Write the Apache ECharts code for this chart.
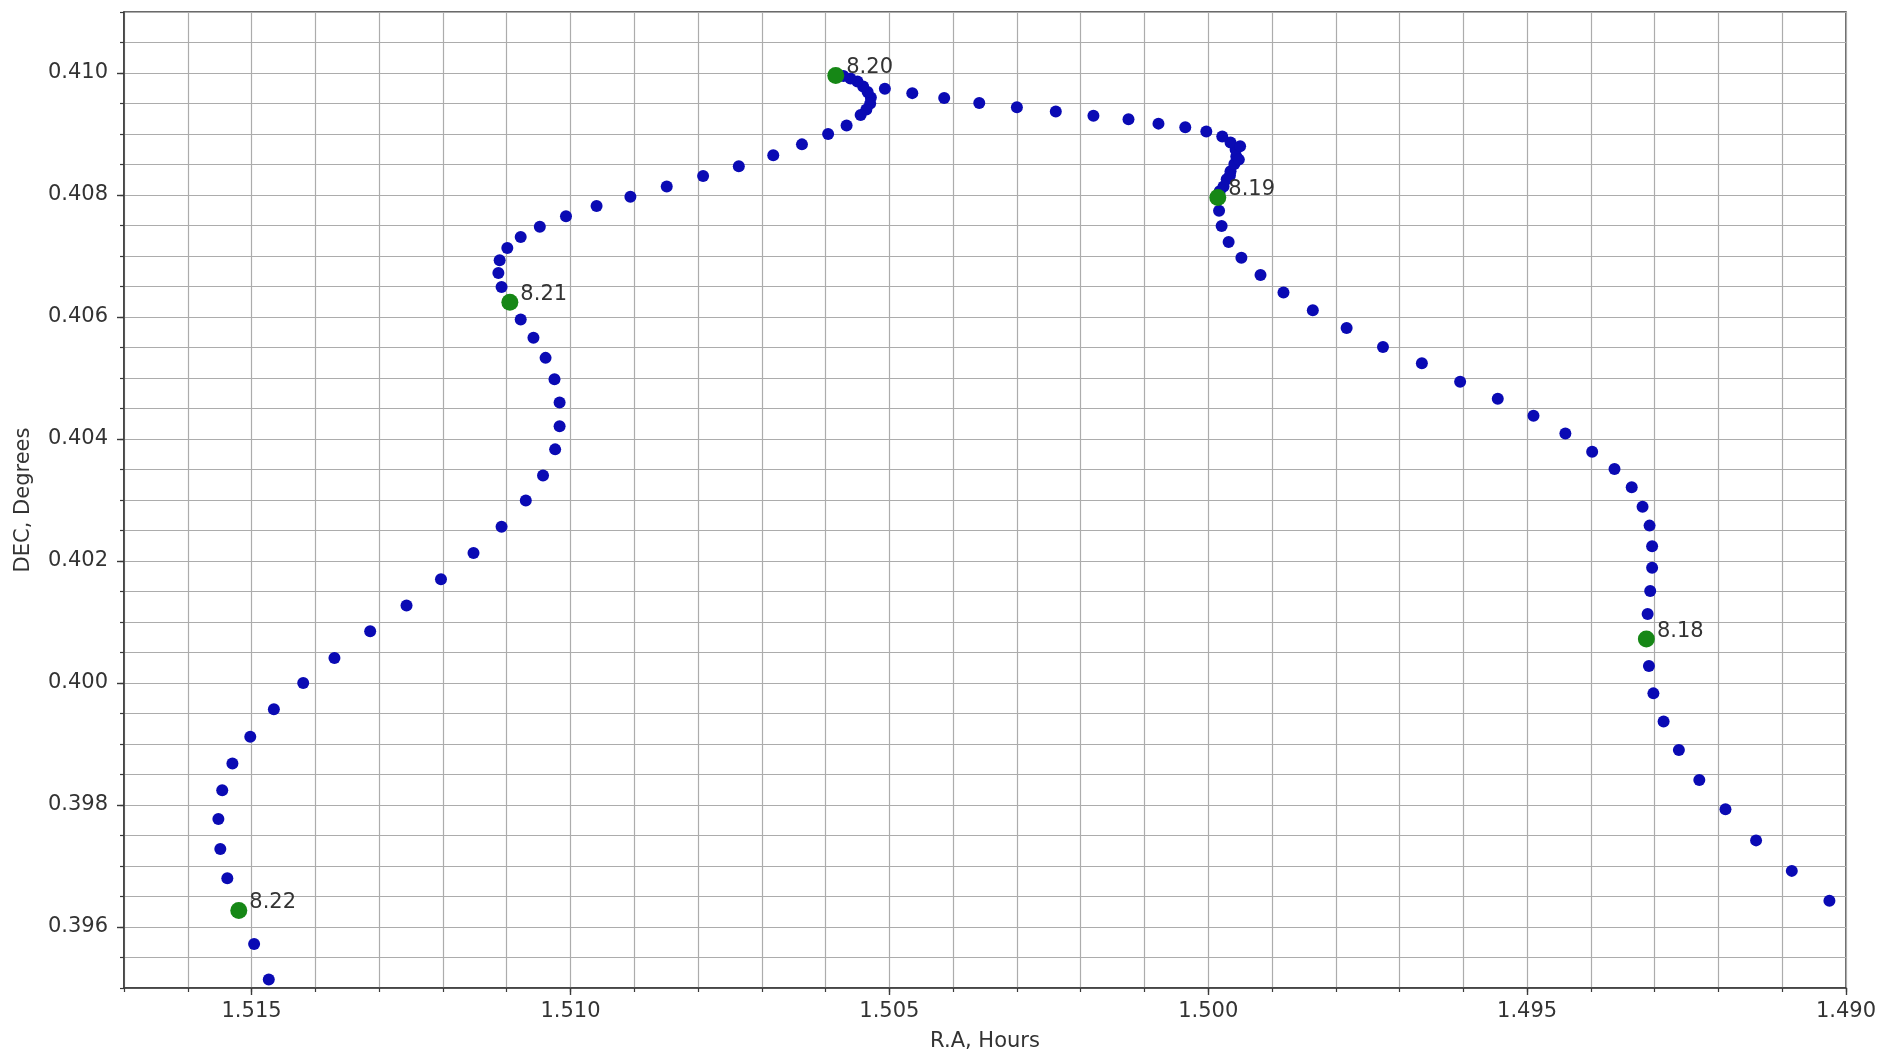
<!DOCTYPE html>
<html>
<head>
<meta charset="utf-8">
<script src="https://cdn.jsdelivr.net/npm/echarts@6/dist/echarts.min.js"></script>
<style>
html,body{margin:0;padding:0;background:#fff;}
#chart{width:1881px;height:1056px;}
</style>
</head>
<body>
<div id="chart"></div>
<script>
// Hourly positions (blue points)
const raBlue = [
  1.49026,1.49085,1.49141,1.49189,1.49230,1.49262,1.49286,1.49302,1.49309,1.49313,
  1.49311,1.49307,1.49304,1.49304,1.49308,1.49319,1.49336,1.49363,1.49398,1.49440,
  1.49490,1.49546,1.49605,1.49665,1.49726,1.49783,1.49836,1.49882,1.49918,1.49948,
  1.49968,1.49979,1.49983,1.49985,1.49982,1.49976,1.49971,1.49965,1.49959,1.49956,
  1.49957,1.49965,1.49978,1.49966,1.49952,1.49950,1.50003,1.50036,1.50078,1.50125,
  1.50180,1.50239,1.50300,1.50359,1.50414,1.50464,1.50507,1.50529,1.50534,1.50541,
  1.50550,1.50561,1.50572,1.50584,1.50530,1.50536,1.50545,1.50567,1.50596,1.50637,
  1.50682,1.50736,1.50792,1.50849,1.50906,1.50959,1.51007,1.51048,1.51078,1.51099,
  1.51111,1.51113,1.51108,1.51095,1.51078,1.51058,1.51039,1.51025,1.51017,1.51017,
  1.51024,1.51043,1.51070,1.51108,1.51152,1.51203,1.51257,1.51314,1.51370,1.51419,
  1.51465,1.51502,1.51530,1.51546,1.51552,1.51549,1.51538,1.51520,1.51496,1.51473
];
const decBlue = [
  0.39643,0.39692,0.39742,0.39793,0.39841,0.39890,0.39937,0.39983,0.40028,0.40072,
  0.40113,0.40151,0.40189,0.40224,0.40258,0.40289,0.40321,0.40351,0.40379,0.40409,
  0.40438,0.40466,0.40494,0.40524,0.40551,0.40582,0.40611,0.40640,0.40669,0.40697,
  0.40723,0.40749,0.40774,0.40796,0.40806,0.40814,0.40826,0.40839,0.40851,0.40863,
  0.40874,0.40886,0.40896,0.40832,0.40858,0.40880,0.40904,0.40911,0.40917,0.40924,
  0.40930,0.40937,0.40944,0.40951,0.40959,0.40967,0.40974,0.40960,0.40969,0.40978,
  0.40986,0.40991,0.40995,0.40996,0.40950,0.40940,0.40931,0.40914,0.40900,0.40883,
  0.40865,0.40847,0.40831,0.40814,0.40797,0.40782,0.40765,0.40748,0.40731,0.40713,
  0.40693,0.40672,0.40649,0.40624,0.40596,0.40566,0.40533,0.40498,0.40460,0.40421,
  0.40383,0.40340,0.40299,0.40256,0.40213,0.40170,0.40127,0.40085,0.40041,0.40000,
  0.39957,0.39912,0.39868,0.39824,0.39777,0.39728,0.39680,0.39627,0.39572,0.39514
];
// Daily markers (green points)
const dateLabels = ['8.18','8.19','8.20','8.21','8.22'];
const raDate  = [1.49313,1.49985,1.50584,1.51095,1.51520];
const decDate = [0.40072,0.40796,0.40996,0.40624,0.39627];
// Axis ticks
const xMajorTicks = [1.490,1.495,1.500,1.505,1.510,1.515];
const yMajorTicks = [0.396,0.398,0.400,0.402,0.404,0.406,0.408,0.410];
const xRange = [1.490, 1.517], xStep = 0.001;
const yRange = [0.395, 0.411], yStep = 0.0005;

function steps(a, b, s) {
  const out = [];
  const n = Math.round((b - a) / s);
  for (let i = 0; i <= n; i++) out.push(+(a + i * s).toFixed(5));
  return out;
}
const xMinorTicks = steps(xRange[0], xRange[1], xStep);
const yMinorTicks = steps(yRange[0], yRange[1], yStep);

const blueData = raBlue.map((v, i) => [v, decBlue[i]]);
const greenData = raDate.map((v, i) => ({ name: dateLabels[i], value: [v, decDate[i]] }));

const FONT = 'DejaVu Sans';
const TXT = '#333333';
const chart = echarts.init(document.getElementById('chart'), null, { renderer: 'canvas' });
chart.setOption({
  animation: false,
  backgroundColor: '#ffffff',
  textStyle: { fontFamily: FONT },
  grid: {
    left: 124, right: 35, top: 12, bottom: 68,
    containLabel: false, outerBoundsMode: 'none',
    show: true, borderColor: '#3a3a3a', borderWidth: 1.5, backgroundColor: 'transparent'
  },
  xAxis: [{
    type: 'value', min: xRange[0], max: xRange[1], interval: xStep, inverse: true,
    name: 'R.A, Hours', nameLocation: 'middle', nameGap: 43,
    nameTextStyle: { fontSize: 21, color: TXT, fontFamily: FONT },
    axisLine: { show: true, lineStyle: { color: '#3a3a3a', width: 1.5 } },
    axisTick: { show: true, length: 4, customValues: xMinorTicks, lineStyle: { color: '#3a3a3a', width: 1.2 } },
    axisLabel: { show: true, customValues: xMajorTicks, margin: 13, fontSize: 21, color: TXT, fontFamily: FONT,
      formatter: v => v.toFixed(3) },
    splitLine: { show: true, lineStyle: { color: '#acacac', width: 1.2 } }
  }, {
    type: 'value', min: xRange[0], max: xRange[1], inverse: true, position: 'bottom',
    axisLine: { show: false },
    axisTick: { show: true, length: 7, customValues: xMajorTicks, lineStyle: { color: '#3a3a3a', width: 1.4 } },
    axisLabel: { show: false },
    splitLine: { show: false }
  }],
  yAxis: [{
    type: 'value', min: yRange[0], max: yRange[1], interval: yStep,
    name: 'DEC, Degrees', nameLocation: 'middle', nameGap: 90, nameRotate: 90,
    nameTextStyle: { fontSize: 21, color: TXT, fontFamily: FONT },
    axisLine: { show: true, lineStyle: { color: '#3a3a3a', width: 1.5 } },
    axisTick: { show: true, length: 4, customValues: yMinorTicks, lineStyle: { color: '#3a3a3a', width: 1.2 } },
    axisLabel: { show: true, customValues: yMajorTicks, margin: 16, fontSize: 21, color: TXT, fontFamily: FONT,
      formatter: v => v.toFixed(3) },
    splitLine: { show: true, lineStyle: { color: '#acacac', width: 1.2 } }
  }, {
    type: 'value', min: yRange[0], max: yRange[1], position: 'left',
    axisLine: { show: false },
    axisTick: { show: true, length: 7, customValues: yMajorTicks, lineStyle: { color: '#3a3a3a', width: 1.4 } },
    axisLabel: { show: false },
    splitLine: { show: false }
  }],
  series: [{
    name: 'hourly', type: 'scatter', xAxisIndex: 0, yAxisIndex: 0,
    data: blueData, symbol: 'circle', symbolSize: 12,
    itemStyle: { color: '#0a0ab4', opacity: 1 },
    emphasis: { disabled: true }, silent: true
  }, {
    name: 'daily', type: 'scatter', xAxisIndex: 0, yAxisIndex: 0,
    data: greenData, symbol: 'circle', symbolSize: 17, z: 3,
    itemStyle: { color: '#168716', opacity: 1 },
    label: { show: true, position: 'right', distance: 2, offset: [0, -8],
      formatter: p => p.name, fontSize: 21, color: TXT, fontFamily: FONT },
    emphasis: { disabled: true }, silent: true
  }]
});
</script>
</body>
</html>
